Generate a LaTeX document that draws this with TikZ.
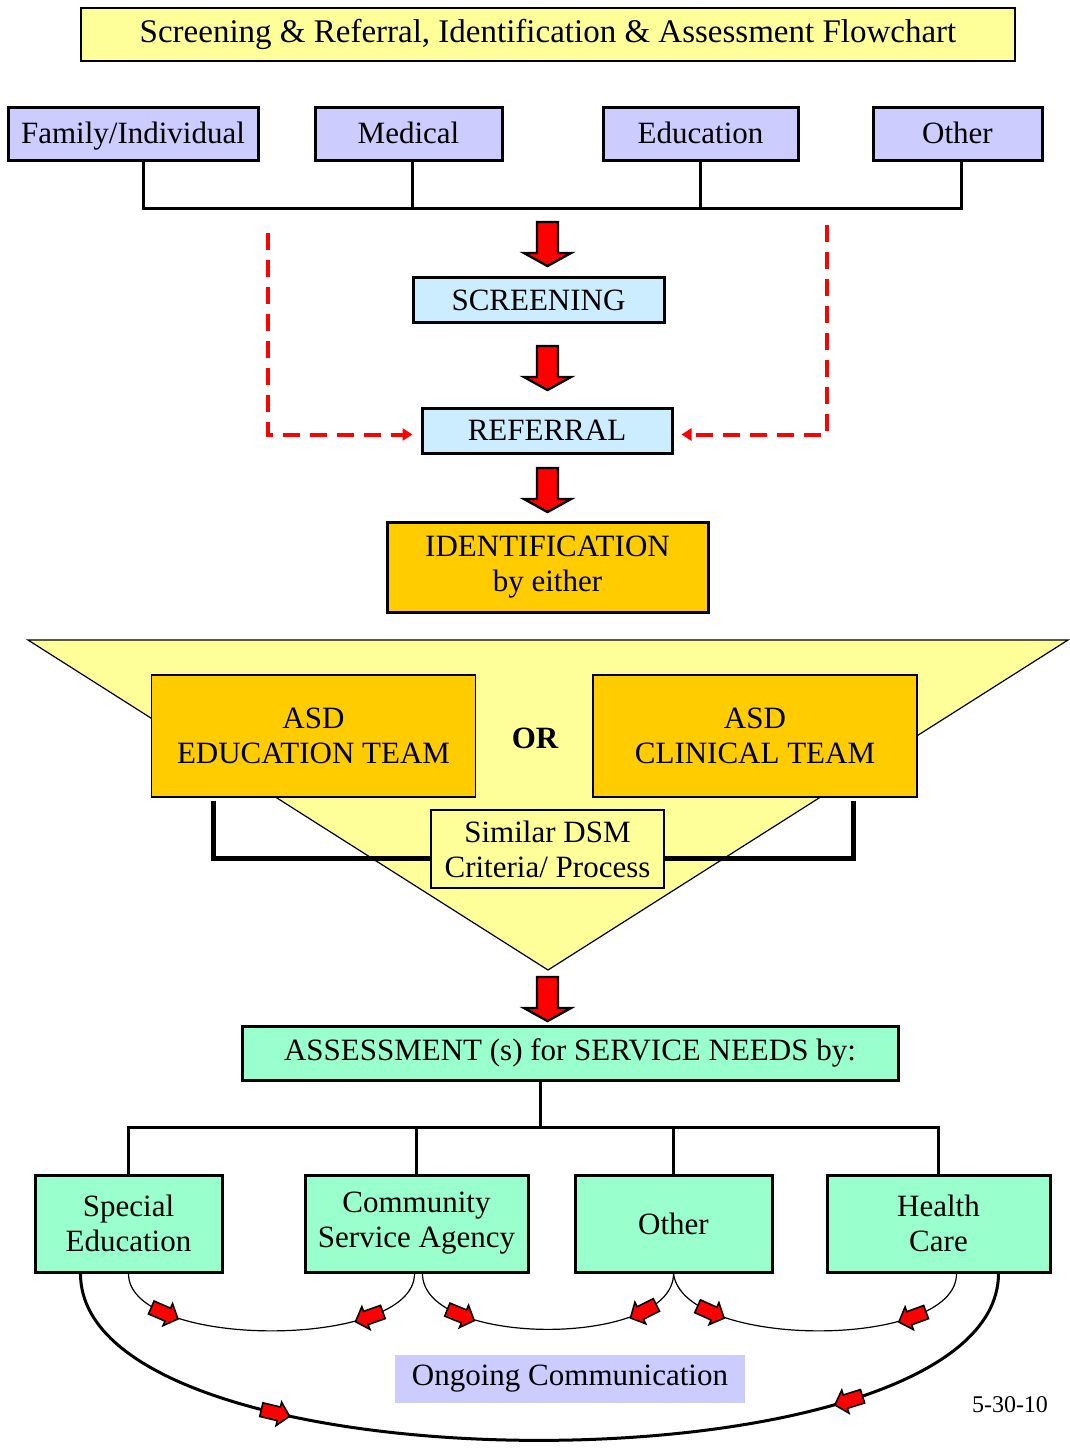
\documentclass[tikz,border=0pt]{standalone}
\usepackage{fontspec}
\setmainfont{Liberation Serif}
\usetikzlibrary{positioning, calc, arrows.meta, decorations.markings}

\definecolor{paleyellow}{HTML}{FFFF99}
\definecolor{lavender}{HTML}{CCCCFF}
\definecolor{skyblue}{HTML}{CCECFF}
\definecolor{gold}{HTML}{FFCC00}
\definecolor{mint}{HTML}{99FFCC}

\newcommand{\commtip}[1]{%
  \draw[fill=red, draw=black, line width=0.8pt, rotate=#1]
    (-7pt,-3.5pt) -- (2pt,-3.5pt) -- (2pt,-6pt) -- (7.5pt,0pt)
    -- (2pt,6pt) -- (2pt,3.5pt) -- (-7pt,3.5pt) -- cycle;}

\tikzset{
  box/.style={draw, line width=1.5pt, inner sep=0pt, align=center,
    font=\fontsize{15.5}{17.5}\selectfont},
  source/.style={box, fill=lavender, minimum height=26.5pt, text height=12pt, text depth=2pt},
  stage/.style={box, fill=skyblue, minimum height=22.5pt, minimum width=125pt},
  team/.style={box, fill=gold, line width=0.8pt, minimum height=61pt, minimum width=162pt},
  service/.style={box, fill=mint, minimum height=48.5pt},
  conn/.style={line width=1.5pt},
  bracket/.style={line width=2.5pt},
  refline/.style={red, line width=2pt, dash pattern=on 8.5pt off 5pt,
    -{Triangle[length=5pt,width=6pt]}, shorten >=4pt},
  redblock/.style={fill=red, draw=black, line width=1.2pt, line join=miter},
  talk/.style 2 args={postaction={decorate}, decoration={markings,
    mark=at position #1 with {\commtip{0}},
    mark=at position #2 with {\commtip{180}}}}
}

\begin{document}
\begin{tikzpicture}[x=0.5pt, y=-0.5pt]
    \useasboundingbox (0,0) rectangle (1070,1448);

    % Title
    \node[box, fill=paleyellow, line width=1pt, minimum width=467pt, minimum height=26.5pt,
      font=\fontsize{16.5}{18}\selectfont] (title) at (548,34.5)
      {Screening \& Referral, Identification \& Assessment Flowchart};

    % Sources
    \node[source, minimum width=125pt] (fam) at (133,133.5) {Family/Individual};
    \node[source, minimum width=93.5pt] (med) at (408.5,133.5) {Medical};
    \node[source, minimum width=97.5pt] (edu) at (700.5,133.5) {Education};
    \node[source, minimum width=84.5pt] (oth) at (957.5,133.5) {Other};

    \coordinate (bus) at (547,208);
    \draw[conn] ([xshift=5pt]fam.south) |- (bus) -| ([xshift=2pt]oth.south);
    \draw[conn] ([xshift=2pt]med.south) -- ([xshift=2pt]med.south |- bus);
    \draw[conn] (edu.south) -- (edu.south |- bus);

    % Screening and referral
    \node[stage, minimum width=125.5pt] (scr) at (538.5,300) {SCREENING};
    \node[stage] (ref) at (547,430.5) {REFERRAL};

    \coordinate (famref) at (268,233);
    \coordinate (othref) at (827,225);
    \draw[refline] (famref) |- ([yshift=-2pt]ref.west);
    \draw[refline] (othref) |- ([yshift=-2pt]ref.east);

    % Identification
    \node[box, fill=gold, minimum width=160.5pt, minimum height=45pt] (ident) at (547.5,567)
      {IDENTIFICATION\\by either};

    % Block arrows
    \foreach \y in {222,346,468,977}
      \draw[redblock] (537,\y) -- (558,\y) -- (558,\y+31) -- (571,\y+31)
        -- (547.5,\y+44) -- (524,\y+31) -- (537,\y+31) -- cycle;

    % Teams
    \draw[fill=paleyellow, line width=0.6pt] (28,640) -- (1068,640) -- (548,970) -- cycle;
    \node[team] (eduteam) at (313.5,736) {ASD\\EDUCATION TEAM};
    \node[team] (clinteam) at (755,736) {ASD\\CLINICAL TEAM};
    \node[font=\fontsize{15.5}{17.5}\selectfont\bfseries] (or) at (535,738) {OR};
    \draw[bracket] ([xshift=-50pt,yshift=-1.5pt]eduteam.south) -- ++(0,58)
      -| ([xshift=49pt,yshift=-1.5pt]clinteam.south);
    \node[box, fill=paleyellow, line width=0.8pt, minimum width=116.5pt, minimum height=39pt]
      (dsm) at (547.5,849) {Similar DSM\\Criteria/ Process};

    % Assessment
    \node[box, fill=mint, minimum width=328pt, minimum height=27pt] (assess) at (570,1053)
      {ASSESSMENT (s) for SERVICE NEEDS by:};

    \node[service, minimum width=93.5pt] (sped) at (128.5,1223.5) {Special\\Education};
    \node[service, minimum width=111.5pt] (comm) at (416.5,1223.5) {Community\\Service Agency};
    \node[service, minimum width=98.5pt] (oth2) at (673.5,1223.5) {Other};
    \node[service, minimum width=111.5pt] (hc) at (938.5,1223.5) {Health\\Care};

    \coordinate (bus2) at (540,1127);
    \draw[conn] (bus2) -- (bus2 |- assess.south);
    \draw[conn] (sped.north) |- (bus2) -| (hc.north);
    \draw[conn] (comm.north) -- (comm.north |- bus2);
    \draw[conn] (oth2.north) -- (oth2.north |- bus2);

    % Ongoing communication
    \draw[line width=0.6pt, talk={0.17}{0.8}] (sped.south)
      .. controls (128,1350) and (415,1350) .. ([xshift=-1pt]comm.south);
    \draw[line width=0.6pt, talk={0.2}{0.83}] ([xshift=3pt]comm.south)
      .. controls (422,1348) and (674,1348) .. (oth2.south);
    \draw[line width=0.6pt, talk={0.17}{0.8}] (oth2.south)
      .. controls (683,1350) and (957,1350) .. ([xshift=9pt]hc.south);
    \draw[line width=1.5pt, talk={0.245}{0.8}] ([xshift=-24pt]sped.south)
      .. controls (80,1496) and (998,1496) .. ([xshift=30pt]hc.south);

    \node[fill=lavender, minimum width=175pt, minimum height=24pt,
      font=\fontsize{15.5}{17.5}\selectfont] (talkbox) at (570,1379) {Ongoing Communication};
    \node[font=\fontsize{12}{14}\selectfont] (date) at (1010,1405) {5-30-10};
\end{tikzpicture}
\end{document}
